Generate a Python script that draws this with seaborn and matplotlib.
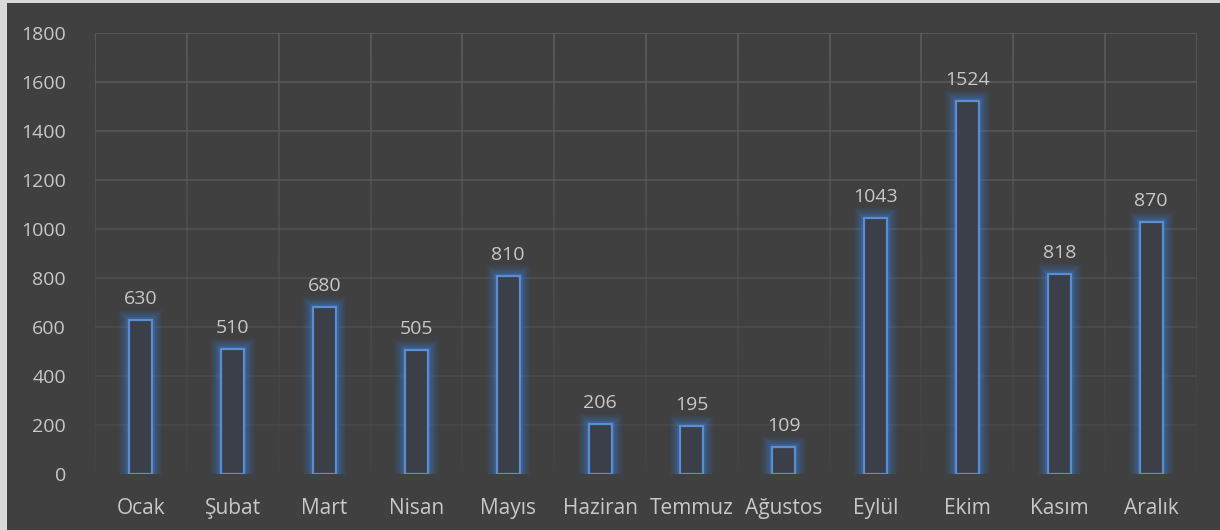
import matplotlib
matplotlib.use("Agg")
import matplotlib.pyplot as plt
import matplotlib.patheffects as pe
from matplotlib.collections import LineCollection
from matplotlib.patches import Rectangle
import numpy as np
import pandas as pd
import seaborn as sns

months = ["Ocak", "Şubat", "Mart", "Nisan", "Mayıs", "Haziran", "Temmuz",
          "Ağustos", "Eylül", "Ekim", "Kasım", "Aralık"]
bar_heights = [630, 510, 680, 505, 810, 206, 195, 109, 1043, 1524, 818, 1030]
data_labels = ["630", "510", "680", "505", "810", "206", "195", "109",
               "1043", "1524", "818", "870"]
y_ticks = [0, 200, 400, 600, 800, 1000, 1200, 1400, 1600, 1800]

BG = "#404040"
GRID = "#5c5c5c"
EDGE = "#5b8dd4"
GLOW = "#3a82de"
TXT = "#c8c8c8"

sns.set_theme(style="dark")
plt.rcParams["font.family"] = ["Open Sans", "DejaVu Sans"]

fig = plt.figure(figsize=(12.2, 5.3), dpi=100)
fig.patch.set_facecolor("#d9d9d9")
fig.patches.append(Rectangle((7 / 1220, 0), 1, (530 - 3) / 530,
                             transform=fig.transFigure, facecolor=BG,
                             edgecolor="none", zorder=-10))
ax = fig.add_axes([95 / 1220, 56 / 530, (1197 - 95) / 1220, (474 - 33) / 530])
ax.set_facecolor(BG)

df = pd.DataFrame({"month": months, "value": bar_heights})
sns.barplot(data=df, x="month", y="value", ax=ax, width=0.25,
            color=BG, edgecolor=EDGE, linewidth=1.6, zorder=3)

for p in ax.patches:
    p.set_facecolor("#3b3f48")
    p.set_path_effects([
        pe.Stroke(linewidth=16, foreground=GLOW, alpha=0.06),
        pe.Stroke(linewidth=13, foreground=GLOW, alpha=0.08),
        pe.Stroke(linewidth=10, foreground=GLOW, alpha=0.11),
        pe.Stroke(linewidth=7, foreground=GLOW, alpha=0.15),
        pe.Stroke(linewidth=4, foreground=GLOW, alpha=0.25),
        pe.Normal(),
    ])

ax.set_ylim(0, 1800)
ax.set_xlim(-0.5, len(months) - 0.5)

# gradient gridlines (fade toward bottom)
base_rgb = matplotlib.colors.to_rgb(GRID)
segs, cols = [], []
for yv in y_ticks[1:]:
    segs.append([(-0.5, yv), (len(months) - 0.5, yv)])
    a = 0.25 + 0.75 * (yv / 1800) ** 1.2
    cols.append((*base_rgb, a))
n = 60
ys = np.linspace(0, 1800, n + 1)
for xb in np.arange(-0.5, len(months), 1.0):
    for i in range(n):
        segs.append([(xb, ys[i]), (xb, ys[i + 1])])
        a = 0.12 + 0.88 * (ys[i] / 1800) ** 1.3
        cols.append((*base_rgb, a))
ax.add_collection(LineCollection(segs, colors=cols, linewidths=1.2, zorder=1))

for p, lab in zip(ax.patches, data_labels):
    ax.annotate(lab, (p.get_x() + p.get_width() / 2, p.get_height()),
                xytext=(0, 12), textcoords="offset pixels",
                ha="center", va="bottom", color=TXT, fontsize=14, zorder=5)

ax.set_yticks(y_ticks)
ax.set_yticklabels([str(v) for v in y_ticks])
ax.tick_params(axis="y", colors=TXT, labelsize=14, length=0, pad=21)
ax.tick_params(axis="x", colors=TXT, labelsize=15, length=0, pad=17)
ax.set_xlabel("")
ax.set_ylabel("")
ax.grid(False)
for s in ax.spines.values():
    s.set_visible(False)

fig.savefig("out.png", dpi=100, facecolor=fig.get_facecolor())
